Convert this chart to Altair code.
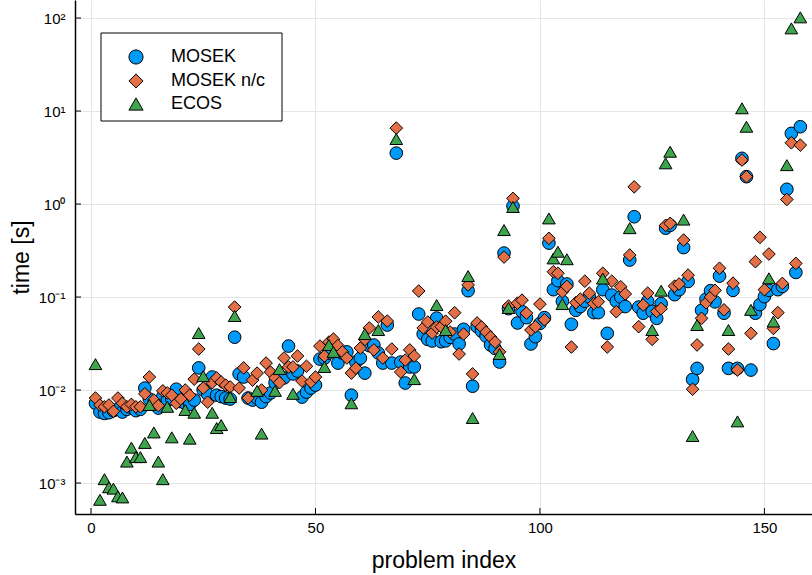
import altair as alt
import pandas as pd

series_names = ["MOSEK", "MOSEK n/c", "ECOS"]
series_colors = ["#009AFA", "#E36F47", "#3EA44E"]
series_shapes = ["circle", "diamond", "triangle-up"]

mosek = [
    0.0072, 0.0058, 0.0056, 0.0057, 0.0060, 0.0062, 0.0058, 0.0062, 0.0065, 0.0060,
    0.0062, 0.0105, 0.0080, 0.0070, 0.0064, 0.0085, 0.0078, 0.0080, 0.0102, 0.0075,
    0.0072, 0.0070, 0.0078, 0.0173, 0.0100, 0.0090, 0.0138, 0.0088, 0.0085, 0.0082,
    0.0080, 0.037, 0.0149, 0.0138, 0.0082, 0.0078, 0.0082, 0.0074, 0.0085, 0.0093,
    0.012, 0.0130, 0.0135, 0.0297, 0.0149, 0.0160, 0.0084, 0.0095, 0.0105, 0.0113,
    0.0215, 0.022, 0.025, 0.030, 0.0195, 0.025, 0.0257, 0.0088, 0.020, 0.022,
    0.0152, 0.030, 0.0305, 0.025, 0.0195, 0.05, 0.0195, 3.53, 0.020, 0.0119,
    0.0177, 0.0177, 0.0657, 0.040, 0.035, 0.0337, 0.0594, 0.0331, 0.0338, 0.0369,
    0.040, 0.0313, 0.045, 0.117, 0.0110, 0.048, 0.043, 0.038, 0.0305, 0.028,
    0.020, 0.297, 0.075, 0.95, 0.0526, 0.070, 0.060, 0.0313, 0.0375, 0.052,
    0.060, 0.38, 0.12, 0.15, 0.090, 0.138, 0.051, 0.072, 0.079, 0.090,
    0.10, 0.068, 0.068, 0.12, 0.0407, 0.105, 0.090, 0.10, 0.079, 0.25,
    0.73, 0.078, 0.067, 0.090, 0.070, 0.059, 0.085, 0.55, 0.59, 0.106,
    0.12, 0.34, 0.147, 0.013, 0.0171, 0.072, 0.095, 0.117, 0.0887, 0.168,
    0.067, 0.0171, 0.118, 0.0171, 3.1, 1.97, 0.0164, 0.067, 0.083, 0.101,
    0.118, 0.0316, 0.12, 0.13, 1.44, 5.75, 0.184, 6.78,
]

mosek_nc = [
    0.0082, 0.0069, 0.0066, 0.0069, 0.0059, 0.0082, 0.0072, 0.0066, 0.0070, 0.0066,
    0.0066, 0.0091, 0.0138, 0.0078, 0.0068, 0.0098, 0.0093, 0.0088, 0.0072, 0.0080,
    0.010, 0.0088, 0.0131, 0.0276, 0.0105, 0.0074, 0.0120, 0.0135, 0.0122, 0.0113,
    0.0108, 0.078, 0.0105, 0.0173, 0.0082, 0.0128, 0.0152, 0.010, 0.0195, 0.0156,
    0.0135, 0.012, 0.0221, 0.0177, 0.0177, 0.0232, 0.0125, 0.018, 0.0122, 0.0138,
    0.0297, 0.0232, 0.0328, 0.0353, 0.030, 0.0257, 0.0221, 0.0152, 0.0172, 0.0283,
    0.035, 0.0465, 0.027, 0.061, 0.0221, 0.0552, 0.0276, 6.56, 0.0156, 0.021,
    0.027, 0.0232, 0.116, 0.0465, 0.0538, 0.041, 0.0476, 0.048, 0.055, 0.042,
    0.0678, 0.0244, 0.040, 0.135, 0.0149, 0.0526, 0.0476, 0.042, 0.0372, 0.0328,
    0.0257, 0.269, 0.080, 1.15, 0.086, 0.0925, 0.0672, 0.0442, 0.048, 0.084,
    0.057, 0.428, 0.187, 0.18, 0.114, 0.13, 0.029, 0.087, 0.095, 0.148,
    0.11, 0.085, 0.089, 0.18, 0.029, 0.148, 0.0695, 0.129, 0.108, 0.283,
    1.53, 0.048, 0.082, 0.11, 0.0351, 0.070, 0.075, 0.59, 0.62, 0.131,
    0.138, 0.41, 0.172, 0.0102, 0.0305, 0.059, 0.0866, 0.10, 0.118, 0.204,
    0.0728, 0.0276, 0.141, 0.0164, 2.97, 1.97, 0.0407, 0.24, 0.438, 0.12,
    0.29, 0.046, 0.068, 0.14, 1.12, 4.56, 0.23, 4.3,
]

ecos = [
    0.019, 0.00066, 0.0011, 0.0009, 0.00087, 0.00072, 0.0007, 0.0017, 0.0024, 0.0019,
    0.0019, 0.0027, 0.0069, 0.0035, 0.0017, 0.0011, 0.0066, 0.0031, None, None,
    0.0061, 0.0030, 0.0057, 0.041, 0.0141, None, 0.0057, 0.0039, 0.0042, None,
    0.0084, 0.0625, None, None, None, None, 0.0098, 0.0034, None, None,
    0.0098, 0.0168, None, None, 0.0091, None, None, None, None, None,
    None, 0.0177, 0.0305, 0.0257, None, None, None, 0.0072, None, None,
    0.040, None, None, 0.0442, None, None, None, 5.0, None, None,
    None, 0.0131, None, None, None, None, 0.082, None, 0.0442, None,
    None, None, None, 0.168, 0.0050, None, None, None, None, None,
    0.0244, 0.525, 0.0762, 0.93, None, None, None, None, None, None,
    None, 0.70, 0.26, 0.307, 0.084, 0.255, None, None, None, None,
    None, None, None, 0.158, None, None, None, None, None, 0.55,
    None, None, None, None, 0.0442, None, 0.117, 2.74, 3.65, None,
    None, 0.68, None, 0.0032, 0.05, None, None, None, None, None,
    None, 0.0442, None, 0.0046, 10.7, 6.78, 0.0728, None, None, None,
    0.159, 0.0545, None, None, 2.62, 77.4, None, 101.7,
]

x_ticks = [0, 50, 100, 150]
y_ticks = [0.001, 0.01, 0.1, 1, 10, 100]

rows = []
for k, (name, vals) in enumerate(zip(series_names, [mosek, mosek_nc, ecos])):
    for i, v in enumerate(vals):
        if v is not None:
            rows.append({"index": i + 1, "time": v, "series": name, "ord": k})
df = pd.DataFrame(rows)

W, H = 737, 514
x_scale = alt.Scale(domain=[-3.56, 160.6], nice=False, zero=False)
y_scale = alt.Scale(type="log", domain=[10 ** -3.333, 10 ** 2.194], nice=False)

y_label_expr = (
    "datum.value < 0.005 ? '10\u207b\u00b3' : datum.value < 0.05 ? '10\u207b\u00b2' : "
    "datum.value < 0.5 ? '10\u207b\u00b9' : datum.value < 5 ? '10\u2070' : "
    "datum.value < 50 ? '10\u00b9' : '10\u00b2'"
)
x_axis = alt.Axis(values=x_ticks, title="problem index", grid=True)
y_axis = alt.Axis(values=y_ticks, labelExpr=y_label_expr, title="time [s]", grid=True)

legend_def = alt.Legend(title=None)

points = alt.Chart(df).mark_point(
    filled=True, opacity=1, stroke="black", strokeWidth=1, size=160
).encode(
    x=alt.X("index:Q", scale=x_scale, axis=x_axis),
    y=alt.Y("time:Q", scale=y_scale, axis=y_axis),
    color=alt.Color("series:N", sort=series_names,
                    scale=alt.Scale(domain=series_names, range=series_colors),
                    legend=legend_def),
    shape=alt.Shape("series:N", sort=series_names,
                    scale=alt.Scale(domain=series_names, range=series_shapes),
                    legend=legend_def),
    order=alt.Order("ord:Q"),
)

xt = alt.Chart(pd.DataFrame({"index": x_ticks})).mark_rule(color="black", strokeWidth=1).encode(
    x=alt.X("index:Q", scale=x_scale, axis=x_axis),
    y=alt.value(H - 6),
    y2=alt.value(H),
)
yt = alt.Chart(pd.DataFrame({"time": y_ticks})).mark_rule(color="black", strokeWidth=1).encode(
    y=alt.Y("time:Q", scale=y_scale, axis=y_axis),
    x=alt.value(0),
    x2=alt.value(6),
)

# legend frame (white box with black border)
legend_box = alt.Chart(pd.DataFrame({"series": series_names[:1]})).mark_rect(
    fill="white", stroke="black", strokeWidth=1
).encode(
    x=alt.value(26), x2=alt.value(207), y=alt.value(33), y2=alt.value(121)
)

chart = alt.layer(points, xt, yt, legend_box).properties(
    width=W, height=H,
    autosize=alt.AutoSizeParams(type="none"),
    padding={"left": 75, "top": 0, "right": 0, "bottom": 61},
).configure_view(
    stroke=None
).configure_axis(
    domainColor="black", domainWidth=1.5, gridColor="#e6e6e6", gridWidth=1,
    tickSize=0, labelFont="Liberation Sans", labelFontSize=15, labelColor="black",
    titleFont="Liberation Sans", titleFontSize=23, titleFontWeight="normal", titleColor="black",
).configure_axisX(
    labelPadding=6, titlePadding=14,
).configure_axisY(
    labelPadding=10, titlePadding=5,
).configure_legend(
    orient="none", legendX=26, legendY=48,
    padding=0, rowPadding=4, symbolOffset=26, labelOffset=26, symbolSize=200,
    symbolStrokeColor="black", symbolStrokeWidth=1, labelFont="Liberation Sans",
    labelFontSize=18, labelColor="black",
)

chart.save("out.html", embed_options={"renderer": "svg", "actions": False})
